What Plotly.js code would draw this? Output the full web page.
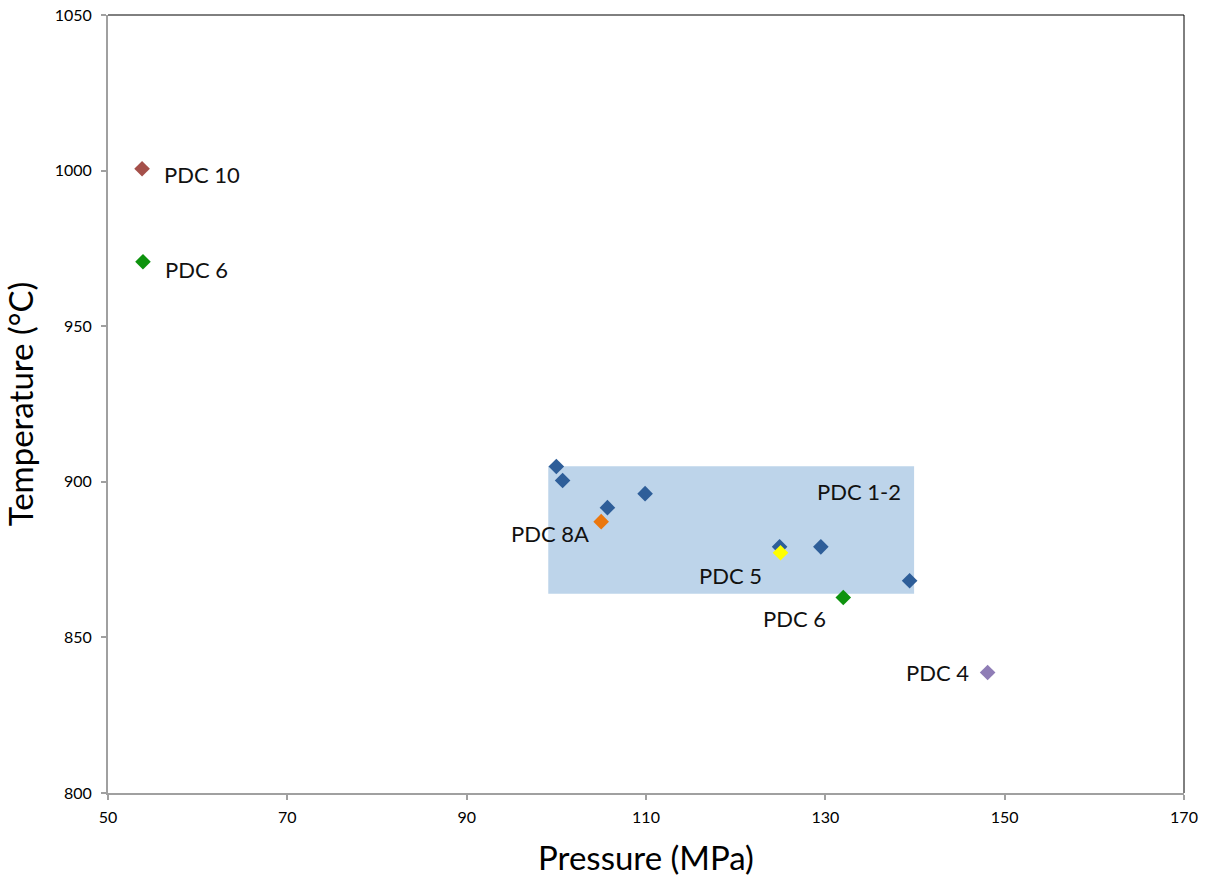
<!DOCTYPE html>
<html>
<head>
<meta charset="utf-8">
<script src="https://cdn.plot.ly/plotly-3.0.1.min.js"></script>
<style>html,body{margin:0;padding:0;background:#fff;}#chart{width:1206px;height:881px;}</style>
</head>
<body>
<div id="chart"></div>
<script>
// PDC 1-2 samples (blue)
const pdc12Pressure = [100.0, 100.7, 105.7, 109.9, 124.9, 129.5, 139.4];
const pdc12Temp     = [904.9, 900.4, 891.7, 896.2, 879.1, 879.1, 868.2];

// Other samples
const otherNames    = ["PDC 10", "PDC 6", "PDC 8A", "PDC 5", "PDC 6", "PDC 4"];
const otherPressure = [53.8, 53.9, 105.0, 125.0, 132.0, 148.1];
const otherTemp     = [1000.6, 970.7, 887.2, 877.2, 862.8, 838.7];
const otherColors   = ["#A5504A", "#0E930E", "#EB770E", "#FFFF00", "#0E930E", "#8F7DB6"];

// Shaded PDC 1-2 range
const boxPressure = [99.1, 139.9];
const boxTemp     = [864.0, 905.0];
const boxLabel    = "PDC 1-2";

const xTicks = [50, 70, 90, 110, 130, 150, 170];
const yTicks = [800, 850, 900, 950, 1000, 1050];

const font = "Lato, 'Open Sans', sans-serif";

const traces = [{
  x: pdc12Pressure, y: pdc12Temp, type: 'scatter', mode: 'markers',
  marker: {symbol: 'diamond', size: 12, color: '#2E5E99'},
  hoverinfo: 'x+y', showlegend: false
}];
otherNames.forEach((n, i) => {
  traces.push({
    x: [otherPressure[i]], y: [otherTemp[i]], type: 'scatter', mode: 'markers',
    marker: {symbol: 'diamond', size: 12, color: otherColors[i]},
    name: n, showlegend: false
  });
});

// label placement offsets (pixels) relative to each point
const labelOffsets = [
  {xanchor: 'left', xshift: 20, yshift: -6},
  {xanchor: 'left', xshift: 20, yshift: -8},
  {xanchor: 'right', xshift: -10, yshift: -12},
  {xanchor: 'right', xshift: -17, yshift: -23},
  {xanchor: 'right', xshift: -15, yshift: -21},
  {xanchor: 'right', xshift: -17, yshift: 0}
];
const annotations = otherNames.map((n, i) => Object.assign({
  x: otherPressure[i], y: otherTemp[i], xref: 'x', yref: 'y', text: n,
  showarrow: false, yanchor: 'middle',
  font: {family: font, size: 22, color: '#111'}
}, labelOffsets[i]));
annotations.push({
  x: boxPressure[1], y: boxTemp[1], xref: 'x', yref: 'y', text: boxLabel,
  showarrow: false, xanchor: 'right', yanchor: 'middle', xshift: -11, yshift: -25,
  font: {family: font, size: 22, color: '#111'}
});

const layout = {
  width: 1206, height: 881,
  margin: {l: 108, r: 22, t: 15, b: 88},
  paper_bgcolor: '#fff', plot_bgcolor: '#fff',
  font: {family: font, color: '#000'},
  xaxis: {
    range: [50, 170], tickvals: xTicks, ticktext: xTicks.map(String),
    showgrid: false, zeroline: false, showline: true, linecolor: '#A0A0A0', linewidth: 2,
    ticks: 'outside', ticklen: 5, tickcolor: '#A0A0A0', tickwidth: 2,
    ticklabelstandoff: 4,
    tickfont: {family: font, size: 16, color: '#000'},
    title: {text: 'Pressure (MPa)', font: {family: font, size: 33, color: '#000'}, standoff: 22}
  },
  yaxis: {
    range: [800, 1050], tickvals: yTicks, ticktext: yTicks.map(String),
    showgrid: false, zeroline: false, showline: true, linecolor: '#A0A0A0', linewidth: 2,
    ticks: 'outside', ticklen: 5, tickcolor: '#A0A0A0', tickwidth: 2,
    ticklabelstandoff: 6,
    tickfont: {family: font, size: 16, color: '#000'},
    title: {text: 'Temperature (°C)', font: {family: font, size: 33, color: '#000'}, standoff: 14}
  },
  shapes: [
    {type: 'rect', xref: 'x', yref: 'y', x0: boxPressure[0], x1: boxPressure[1],
     y0: boxTemp[0], y1: boxTemp[1], fillcolor: '#BDD4EA', line: {width: 0}, layer: 'below'},
    {type: 'line', xref: 'paper', yref: 'paper', x0: 0, x1: 1, y0: 1, y1: 1, line: {color: '#000', width: 1}},
    {type: 'line', xref: 'paper', yref: 'paper', x0: 1, x1: 1, y0: 0, y1: 1, line: {color: '#000', width: 1}}
  ],
  annotations: annotations
};

Plotly.newPlot('chart', traces, layout, {displayModeBar: false, staticPlot: true});
</script>
</body>
</html>
